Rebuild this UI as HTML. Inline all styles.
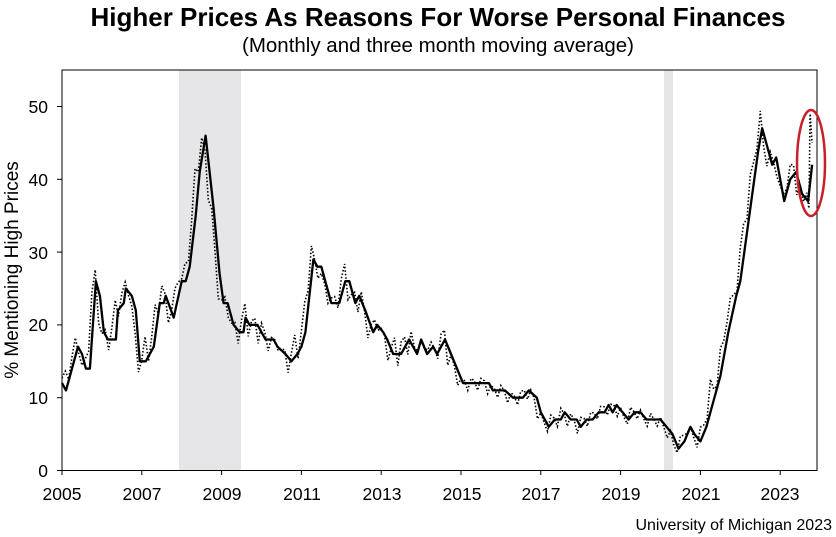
<!DOCTYPE html>
<html><head><meta charset="utf-8"><style>
body{margin:0;background:#fff;}
svg{display:block;font-family:"Liberation Sans",Arial,sans-serif;}
</style></head><body>
<svg id="c" width="836" height="537" viewBox="0 0 836 537" xmlns="http://www.w3.org/2000/svg">
<text x="438" y="26" text-anchor="middle" font-size="26" font-weight="bold" fill="#000">Higher Prices As Reasons For Worse Personal Finances</text>
<text x="438" y="52" text-anchor="middle" font-size="20.5" fill="#000">(Monthly and three month moving average)</text>
<rect x="179" y="70" width="62" height="400" fill="#e6e6e8"/>
<rect x="664" y="70" width="9" height="400" fill="#e6e6e8"/>
<rect x="62" y="70" width="755" height="400.5" fill="none" stroke="#000" stroke-width="1"/>
<g font-size="17.5" fill="#000" text-anchor="end">
<text x="48" y="477">0</text><text x="48" y="404">10</text><text x="48" y="331">20</text>
<text x="48" y="259">30</text><text x="48" y="186">40</text><text x="48" y="113">50</text>
</g>
<g id="ticks" stroke="#000"></g>
<g font-size="17.5" fill="#000" text-anchor="middle">
<text x="62" y="500">2005</text><text x="142" y="500">2007</text><text x="222" y="500">2009</text>
<text x="302" y="500">2011</text><text x="382" y="500">2013</text><text x="462" y="500">2015</text>
<text x="541" y="500">2017</text><text x="621" y="500">2019</text><text x="701" y="500">2021</text>
<text x="780" y="500">2023</text>
</g>
<text transform="translate(18,270) rotate(-90)" text-anchor="middle" font-size="19" fill="#000">% Mentioning High Prices</text>
<text x="832" y="530" text-anchor="end" font-size="16" fill="#000">University of Michigan 2023</text>
<polyline id="dot" fill="none" stroke="#000" stroke-width="1.6" stroke-dasharray="1.5,2"/>
<polyline id="sol" fill="none" stroke="#000" stroke-width="2.3" stroke-linejoin="round"/>
<ellipse cx="811" cy="163" rx="14" ry="53" fill="none" stroke="#c8202a" stroke-width="2.5"/>
</svg>
<script>
var k=[[2005.0,12],[2005.1,11],[2005.4,17],[2005.5,16],[2005.6,14],[2005.7,14],[2005.85,26],[2005.95,24],[2006.05,19],[2006.15,18],[2006.35,18],[2006.4,22],[2006.55,23],[2006.6,25],[2006.75,24],[2006.85,22],[2006.95,15],[2007.1,15],[2007.3,17],[2007.45,23],[2007.55,23],[2007.6,24],[2007.8,21],[2008.0,26],[2008.1,26],[2008.2,28],[2008.35,35],[2008.45,41],[2008.6,46],[2008.7,41],[2008.8,36],[2008.95,27],[2009.05,23],[2009.15,23],[2009.3,20],[2009.45,19],[2009.55,19],[2009.6,21],[2009.7,20],[2009.9,20],[2010.0,19],[2010.1,18],[2010.3,18],[2010.4,17],[2010.6,16],[2010.75,15],[2010.9,16],[2011.0,17],[2011.1,19],[2011.2,24],[2011.3,29],[2011.4,28],[2011.5,28],[2011.6,26],[2011.75,23],[2011.95,23],[2012.1,26],[2012.2,26],[2012.35,23],[2012.45,24],[2012.6,22],[2012.8,19],[2012.9,20],[2013.05,19],[2013.15,18],[2013.3,16],[2013.5,16],[2013.6,17],[2013.7,18],[2013.8,17],[2013.9,16],[2014.0,18],[2014.15,16],[2014.3,17],[2014.4,16],[2014.6,18],[2014.75,16],[2014.9,14],[2015.05,12],[2015.2,12],[2015.5,12],[2015.7,12],[2015.8,11],[2016.1,11],[2016.3,10],[2016.55,10],[2016.7,11],[2016.9,10],[2017.0,8],[2017.2,6],[2017.35,7],[2017.5,7],[2017.6,8],[2017.75,7],[2017.9,7],[2018.0,6],[2018.15,7],[2018.3,7],[2018.45,8],[2018.6,8],[2018.7,9],[2018.8,8],[2018.9,9],[2019.05,8],[2019.2,7],[2019.35,8],[2019.5,8],[2019.65,7],[2019.8,7],[2020.0,7],[2020.15,6],[2020.3,5],[2020.45,3],[2020.6,4],[2020.75,6],[2020.85,5],[2021.0,4],[2021.15,6],[2021.3,9],[2021.5,13],[2021.7,19],[2021.9,24],[2022.0,26],[2022.15,32],[2022.35,40],[2022.45,44],[2022.55,47],[2022.7,44],[2022.8,42],[2022.9,43],[2023.0,40],[2023.1,37],[2023.25,40],[2023.4,41],[2023.55,38],[2023.7,37],[2023.8,42]];
function X(t){return 62+(t-2005)*39.9;}function Y(v){return 470.5-v*7.28;}
function f(t){if(t<=k[0][0])return k[0][1];for(var i=1;i<k.length;i++){if(t<=k[i][0]){var a=k[i-1],b=k[i];return a[1]+(b[1]-a[1])*(t-a[0])/(b[0]-a[0]);}}return k[k.length-1][1];}
document.getElementById('sol').setAttribute('points',k.map(p=>X(p[0]).toFixed(1)+','+Y(p[1]).toFixed(1)).join(' '));
var d=[];for(var m=0;m<=224;m++){var t=2005+m/12;var v=f(t+0.08)+1.6*Math.sin(m*2.1)+ (m%5==0?1.5:0);if(t>2014.9&&t<2021.2)v=f(t+0.08)+1.0*Math.sin(m*2.1);if(v<1.5)v=1.5;d.push([t,v]);}
d.push([2023.72,36]);d.push([2023.75,49]);d.push([2023.8,45]);
document.getElementById('dot').setAttribute('points',d.map(p=>X(p[0]).toFixed(1)+','+Y(p[1]).toFixed(1)).join(' '));
var g=document.getElementById('ticks'),s='';
[0,10,20,30,40,50].forEach(v=>{s+='<line x1="57" x2="62" y1="'+Y(v)+'" y2="'+Y(v)+'"/>';});
for(var y=2005;y<=2023;y+=2){s+='<line x1="'+X(y)+'" x2="'+X(y)+'" y1="470" y2="475"/>';}
g.innerHTML=s;
</script>
</body></html>
